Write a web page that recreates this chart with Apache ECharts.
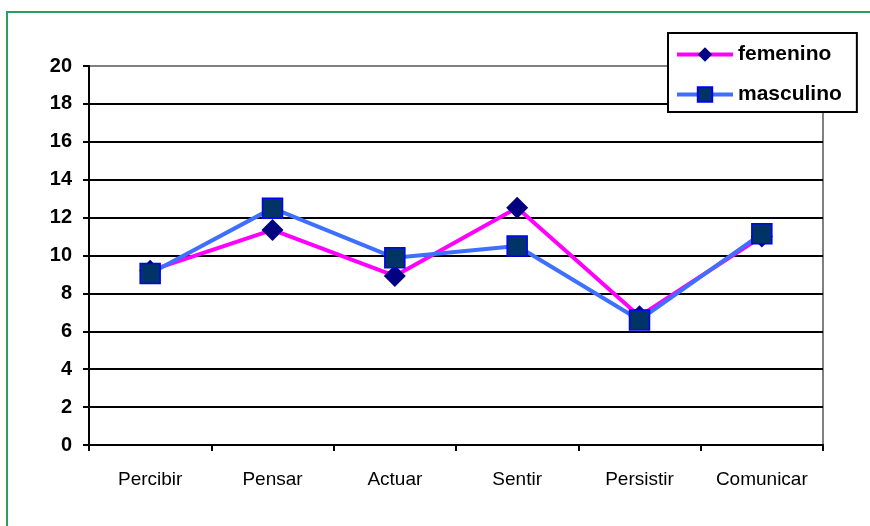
<!DOCTYPE html>
<html>
<head>
<meta charset="utf-8">
<script src="https://cdn.jsdelivr.net/npm/echarts@6/dist/echarts.min.js"></script>
<style>
  html, body { margin: 0; padding: 0; background: #fff; }
  #chart { width: 870px; height: 526px; }
</style>
</head>
<body>
<div id="chart"></div>
<script>
// Dimensiones evaluadas
const categories = ['Percibir', 'Pensar', 'Actuar', 'Sentir', 'Persistir', 'Comunicar'];

// Puntajes medios por grupo
const femenino = [9.2, 11.35, 8.92, 12.52, 6.8, 11.0];
const masculino = [9.05, 12.5, 9.88, 10.5, 6.6, 11.15];

// Marcas del eje vertical
const yTicks = [0, 2, 4, 6, 8, 10, 12, 14, 16, 18, 20];

const chart = echarts.init(document.getElementById('chart'), null, { renderer: 'canvas' });

// Line colours for the gridlines: the top one is grey like the frame
const splitColors = yTicks.map((v, i) => (i === yTicks.length - 1 ? '#808080' : '#000000'));

chart.setOption({
  animation: false,
  backgroundColor: '#ffffff',
  graphic: [{
    type: 'rect',
    silent: true,
    z: -10,
    shape: { x: 7, y: 12, width: 900, height: 600 },
    style: { fill: 'none', stroke: '#2ca05a', lineWidth: 2 }
  }],
  grid: {
    left: 89, right: 47, top: 66, bottom: 81,
    show: true,
    borderColor: '#808080',
    borderWidth: 2,
    backgroundColor: 'transparent'
  },
  legend: {
    orient: 'vertical',
    left: 668,
    top: 33,
    padding: [11, 15, 7, 7],
    itemWidth: 56,
    itemHeight: 18,
    itemGap: 19,
    backgroundColor: '#ffffff',
    borderColor: '#000000',
    borderWidth: 2,
    lineStyle: { width: 4 },
    textStyle: {
      fontFamily: 'Liberation Sans, Arial, sans-serif',
      fontSize: 21,
      fontWeight: 'bold',
      color: '#000000',
      lineHeight: 20
    },
    data: ['femenino', 'masculino']
  },
  xAxis: {
    type: 'category',
    data: categories,
    boundaryGap: true,
    axisLine: { show: true, lineStyle: { color: '#000', width: 2 } },
    axisTick: { show: true, interval: 0, length: 6, lineStyle: { color: '#000', width: 2 } },
    axisLabel: {
      interval: 0,
      margin: 25,
      color: '#000',
      fontFamily: 'Liberation Sans, Arial, sans-serif',
      fontSize: 19
    },
    splitLine: { show: false }
  },
  yAxis: {
    type: 'value',
    min: yTicks[0],
    max: yTicks[yTicks.length - 1],
    interval: 2,
    axisLine: { show: true, lineStyle: { color: '#000', width: 2 } },
    axisTick: { show: true, length: 6, lineStyle: { color: '#000', width: 2 } },
    axisLabel: {
      margin: 17,
      color: '#000',
      fontFamily: 'Liberation Sans, Arial, sans-serif',
      fontSize: 20,
      fontWeight: 'bold'
    },
    splitLine: { show: true, lineStyle: { color: splitColors, width: 2 } }
  },
  series: [
    {
      name: 'femenino',
      type: 'line',
      data: femenino,
      symbol: 'diamond',
      symbolSize: 22,
      itemStyle: { color: '#000080', borderColor: '#000080', borderWidth: 0 },
      lineStyle: { color: '#ff00ff', width: 4 },
      z: 3
    },
    {
      name: 'masculino',
      type: 'line',
      data: masculino,
      symbol: 'rect',
      symbolSize: 20,
      itemStyle: { color: '#003366', borderColor: '#0000ff', borderWidth: 1.5 },
      lineStyle: { color: '#3f6fff', width: 4 },
      z: 4
    }
  ]
});
</script>
</body>
</html>
